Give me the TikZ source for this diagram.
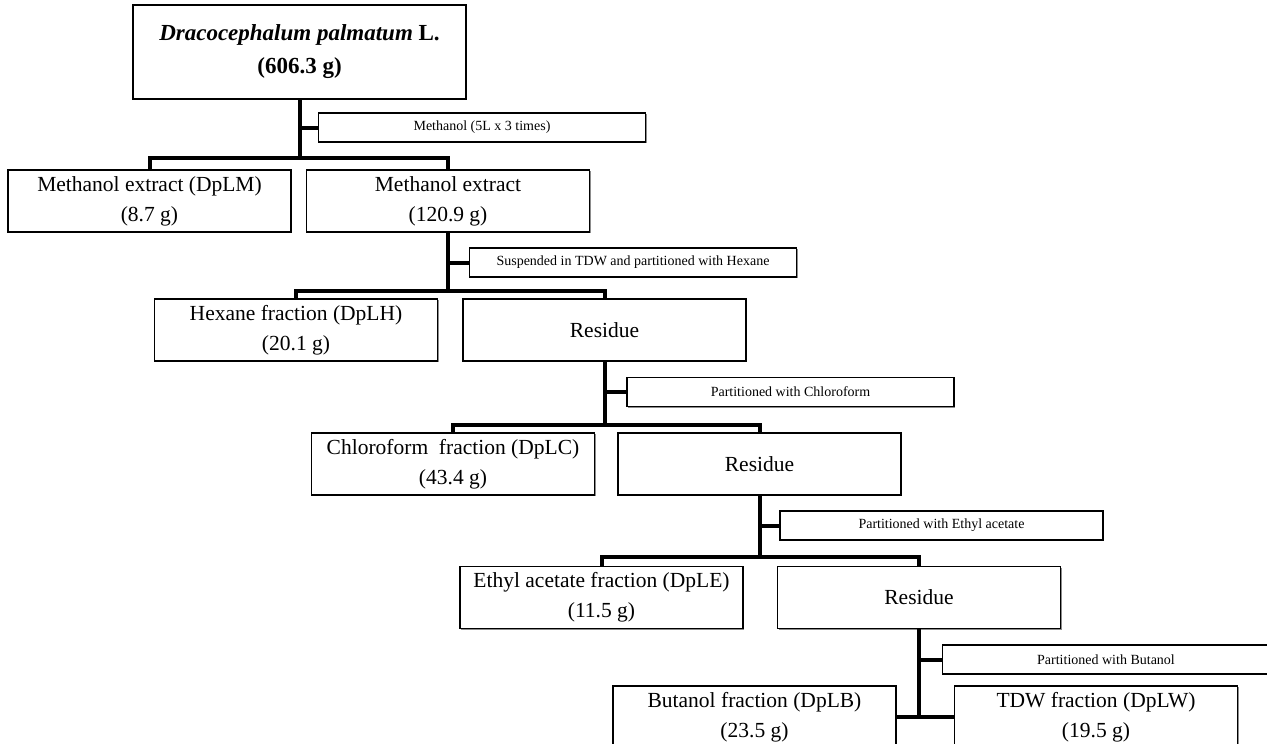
\documentclass[tikz,border=0pt]{standalone}
\usepackage{fontspec}
\setmainfont{Liberation Serif}
\usetikzlibrary{shadows}

\begin{document}
\begin{tikzpicture}[
    x=1pt, y=-1pt,
    stepbox/.style={shape=rectangle, draw=black, line width=1.2pt, fill=white,
        minimum width=283pt, minimum height=62pt, inner sep=0pt, align=center,
        font=\fontsize{21.5}{30}\selectfont,
        drop shadow={shadow xshift=1.2pt, shadow yshift=-1.2pt, fill=black!45, opacity=1}},
    topbox/.style={stepbox, minimum width=333pt, minimum height=94pt,
        font=\fontsize{23}{33}\selectfont\bfseries},
    solvbox/.style={stepbox, minimum width=327pt, minimum height=29pt,
        font=\fontsize{14}{16}\selectfont},
    link/.style={line width=4pt},
]
\useasboundingbox (0,0) rectangle (1267,744);
\clip (0,0) rectangle (1267,744);

\node[topbox] (plant) at (299.5,52) {\textit{Dracocephalum palmatum} L.\\(606.3 g)};
\node[solvbox] (meoh) at (482,127.5) {Methanol (5L x 3 times)};
\node[stepbox] (dplm) at (149.5,201) {Methanol extract (DpLM)\\(8.7 g)};
\node[stepbox] (mext) at (448,201) {Methanol extract\\(120.9 g)};
\node[solvbox] (hexsol) at (633,262.5) {Suspended in TDW and partitioned with Hexane};
\node[stepbox] (dplh) at (296,330) {Hexane fraction (DpLH)\\(20.1 g)};
\node[stepbox] (res1) at (604.5,330) {Residue};
\node[solvbox] (chlsol) at (790.5,392) {Partitioned with Chloroform};
\node[stepbox] (dplc) at (453,464) {Chloroform\ \ fraction (DpLC)\\(43.4 g)};
\node[stepbox] (res2) at (759.5,464) {Residue};
\node[solvbox, minimum width=323pt] (easol) at (941.5,525.5) {Partitioned with Ethyl acetate};
\node[stepbox] (dple) at (601.5,597.5) {Ethyl acetate fraction (DpLE)\\(11.5 g)};
\node[stepbox] (res3) at (919,597.5) {Residue};
\node[solvbox] (busol) at (1106,659.5) {Partitioned with Butanol};
\node[stepbox] (dplb) at (754.5,717) {Butanol fraction (DpLB)\\(23.5 g)};
\node[stepbox] (dplw) at (1096,717) {TDW fraction (DpLW)\\(19.5 g)};

% extraction
\coordinate (j1) at (299.5,158);
\draw[link] (plant.south) -- (j1);
\draw[link] (meoh.west) -- (meoh.west -| j1);
\draw[link] (dplm.north) |- (j1) -| (mext.north);

% hexane
\coordinate (j2) at (448,291);
\draw[link] (mext.south) -- (j2);
\draw[link] (hexsol.west) -- (hexsol.west -| j2);
\draw[link] (dplh.north) |- (j2) -| (res1.north);

% chloroform
\coordinate (j3) at (604.5,425);
\draw[link] (res1.south) -- (j3);
\draw[link] (chlsol.west) -- (chlsol.west -| j3);
\draw[link] (dplc.north) |- (j3) -| (res2.north);

% ethyl acetate
\coordinate (j4) at (759.5,557);
\draw[link] (res2.south) -- (j4);
\draw[link] (easol.west) -- (easol.west -| j4);
\draw[link] (dple.north) |- (j4) -| (res3.north);

% butanol
\draw[link] (res3.south) -- (res3.south |- dplb.east);
\draw[link] (busol.west) -- (busol.west -| res3.south);
\draw[link] (dplb.east) -- (dplw.west);
\end{tikzpicture}
\end{document}
